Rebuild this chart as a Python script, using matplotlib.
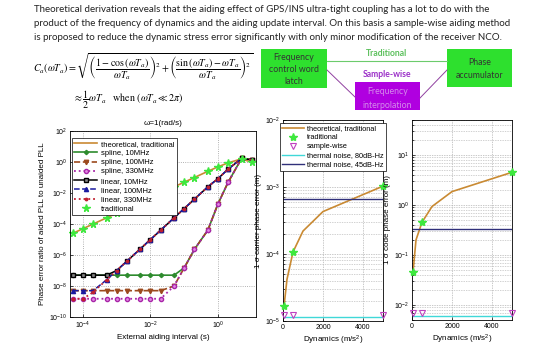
import matplotlib
matplotlib.use("Agg")
import matplotlib.pyplot as plt
from matplotlib.patches import Rectangle

plt.rcParams['font.family'] = ['Liberation Sans', 'DejaVu Sans']
plt.rcParams['mathtext.fontset'] = 'custom'
plt.rcParams['mathtext.rm'] = 'Liberation Sans'
plt.rcParams['mathtext.it'] = 'Liberation Sans:italic'
plt.rcParams['mathtext.bf'] = 'Liberation Sans:bold'
plt.rcParams['axes.linewidth'] = 0.6

# %% data
# left panel: ratio vs external aiding interval
interval = [5e-5, 1e-4, 2e-4, 5e-4, 1e-3, 2e-3, 5e-3, 1e-2, 2e-2, 5e-2,
            0.1, 0.2, 0.5, 1, 2, 5, 10]
theo_ratio = [2.5e-5, 5e-5, 1e-4, 2.5e-4, 5e-4, 1e-3, 2.5e-3, 5e-3, 1e-2,
              2.5e-2, 5e-2, 0.1, 0.25, 0.49, 0.88, 1.6, 0.95]
trad_ratio = theo_ratio
spline_10 = [5e-8, 5e-8, 5e-8, 5e-8, 5e-8, 5e-8, 5e-8, 5e-8, 5e-8, 5e-8,
             1.5e-7, 2.3e-6, 4e-5, 2e-3, 5e-2, 1.7, 1.4]
spline_100 = [5e-9, 5e-9, 5e-9, 5e-9, 5e-9, 5e-9, 5e-9, 5e-9, 5e-9, 1e-8,
              1.5e-7, 2.3e-6, 4e-5, 2e-3, 5e-2, 1.7, 1.4]
spline_330 = [1.5e-9, 1.5e-9, 1.5e-9, 1.5e-9, 1.5e-9, 1.5e-9, 1.5e-9, 1.5e-9,
              1.5e-9, 1e-8, 1.5e-7, 2.3e-6, 4e-5, 2e-3, 5e-2, 1.7, 1.4]
linear_10 = [5e-8, 5e-8, 5e-8, 5e-8, 1e-7, 4e-7, 2.5e-6, 1e-5, 4e-5, 2.5e-4,
             1e-3, 4e-3, 2.5e-2, 0.085, 0.35, 1.7, 1.4]
linear_100 = [5e-9, 5e-9, 5e-9, 2.5e-8, 1e-7, 4e-7, 2.5e-6, 1e-5, 4e-5,
              2.5e-4, 1e-3, 4e-3, 2.5e-2, 0.085, 0.35, 1.7, 1.4]
linear_330 = [1.5e-9, 1.5e-9, 4e-9, 2.5e-8, 1e-7, 4e-7, 2.5e-6, 1e-5, 4e-5,
              2.5e-4, 1e-3, 4e-3, 2.5e-2, 0.085, 0.35, 1.7, 1.4]

# middle / right panels: error vs dynamics
dynamics = [50, 200, 500, 1000, 2000, 5000]
dyn_marks = [50, 500, 5000]
dyn_span = [0, 5000]
carrier_theo = [1.66e-5, 4.2e-5, 1.07e-4, 2.2e-4, 4.3e-4, 1.03e-3]
carrier_trad = [1.66e-5, 1.07e-4, 1.03e-3]
carrier_sample = [1.25e-5, 1.25e-5, 1.25e-5]
carrier_80 = [1.15e-5, 1.15e-5]
carrier_45 = [6.6e-4, 6.6e-4]
code_theo = [0.045, 0.2, 0.45, 0.93, 1.85, 4.5]
code_trad = [0.045, 0.45, 4.5]
code_sample = [7e-3, 7e-3, 7e-3]
code_80 = [5.9e-3, 5.9e-3]
code_45 = [0.33, 0.33]

para = ["Theoretical derivation reveals that the aiding effect of GPS/INS "
        "ultra-tight coupling has a lot to do with the",
        "product of the frequency of dynamics and the aiding update interval. "
        "On this basis a sample-wise aiding method",
        "is proposed to reduce the dynamic stress error significantly with "
        "only minor modification of the receiver NCO."]

c_theo = '#C98A33'
c_star = '#3EE83E'
c_tri = '#C040C0'
W, H = 550., 350.

fig = plt.figure(figsize=(5.5, 3.5), dpi=100)

# %% header text, formula and NCO sketch (pixel coordinates)
ax0 = fig.add_axes([0, 0, 1, 1])
ax0.set_xlim(0, W)
ax0.set_ylim(H, 0)
ax0.axis('off')

for i, line in enumerate(para):
    ax0.text(34, 10 + 13.5 * i, line, family='Lato', fontsize=7.0,
             va='center', ha='left', color='#222222')

formula = (r'$C_a\left(\omega T_a\right)=\sqrt{\left(\dfrac{1-\cos\left(\omega T_a'
           r'\right)}{\omega T_a}\right)^2+\left(\dfrac{\sin\left(\omega T_a'
           r'\right)-\omega T_a}{\omega T_a}\right)^2}$')
ax0.text(33, 67, formula, math_fontfamily='stix', fontsize=7.2, va='center')
ax0.text(73, 100, r'$\approx\dfrac{1}{2}\omega T_a\quad\mathrm{when}\ '
         r'\left(\omega T_a\ll 2\pi\right)$', math_fontfamily='stix',
         fontsize=7.2, va='center')

green = '#2EE02E'
ax0.add_patch(Rectangle((261, 49), 66, 39, color=green, lw=0))
ax0.add_patch(Rectangle((447, 49), 65, 38, color=green, lw=0))
ax0.add_patch(Rectangle((355, 82), 65, 28, color='#B000E0', lw=0))
ax0.text(294, 57, 'Frequency', family='Lato', fontsize=6.3, ha='center',
         va='center', color='#333333')
ax0.text(294, 69.5, 'control word', family='Lato', fontsize=6.3, ha='center',
         va='center', color='#333333')
ax0.text(294, 81.5, 'latch', family='Lato', fontsize=6.3, ha='center',
         va='center', color='#333333')
ax0.text(479.5, 62.5, 'Phase', family='Lato', fontsize=6.3, ha='center',
         va='center', color='#333333')
ax0.text(479.5, 76, 'accumulator', family='Lato', fontsize=6.3,
         ha='center', va='center', color='#333333')
ax0.text(387.5, 92, 'Frequency', family='Lato', fontsize=6.3, ha='center',
         va='center', color='#D58CEB')
ax0.text(387.5, 105, 'interpolation', family='Lato', fontsize=6.3,
         ha='center', va='center', color='#D58CEB')
ax0.plot([327, 447], [61, 61], color='#6CCB6C', lw=0.8)
ax0.text(387, 53, 'Traditional', family='Lato', fontweight='bold',
         fontsize=6.2, ha='center', va='center', color='#5CC05C')
ax0.text(387, 74.5, 'Sample-wise', family='Lato', fontweight='bold',
         fontsize=6.2, ha='center', va='center', color='#9B30C8')
ax0.plot([327, 355], [70, 97], color='#9040A0', lw=0.7)
ax0.plot([420, 447], [98, 70], color='#9040A0', lw=0.7)

# %% left panel
ax1 = fig.add_axes([70 / W, 33 / H, 186 / W, 186 / H])
ax1.plot(interval, theo_ratio, '-', color=c_theo, lw=1.2,
         label='theoretical, traditional')
ax1.plot(interval, spline_10, '-', color='#2E8B2E', marker='D', ms=2.2,
         lw=1.2, label='spline, 10MHz')
ax1.plot(interval, spline_100, '--', color='#9C4A1E', marker='v', ms=3.2,
         lw=1.2, label='spline, 100MHz')
ax1.plot(interval, spline_330, ':', color='#A826A8', marker='o', ms=3,
         mfc='#E28AE2', lw=1.3, label='spline, 330MHz')
ax1.plot(interval, linear_10, '-', color='black', marker='s', ms=3,
         mfc='#888888', lw=1.1, label='linear, 10MHz')
ax1.plot(interval, linear_100, '--', color='#1A1AA0', marker='^', ms=3,
         lw=1.1, label='linear, 100MHz')
ax1.plot(interval, linear_330, ':', color='#C02030', marker='.', ms=3.5,
         lw=1.3, label='linear, 330MHz')
ax1.plot(interval, trad_ratio, '*', color=c_star, ms=5.5, ls='none',
         label='traditional', clip_on=False)
ax1.set_xscale('log')
ax1.set_yscale('log')
ax1.set_xlim(10 ** -4.385, 10 ** 1.126)
ax1.set_ylim(1e-10, 1e2)
ax1.set_xticks([1e-4, 1e-2, 1])
ax1.set_yticks([10.0 ** k for k in range(-10, 3, 2)])
ax1.minorticks_off()
ax1.grid(True, ls=':', color='0.6', lw=0.6)
ax1.tick_params(direction='in', length=2.5, width=0.5, labelsize=5, pad=2)
ax1.set_title('ω=1(rad/s)', fontsize=5.8, pad=4)
ax1.set_xlabel('External aiding interval (s)', fontsize=5.8, labelpad=2)
ax1.set_ylabel('Phase error ratio of aided PLL to unaided PLL', fontsize=5.8,
               labelpad=2)
leg = ax1.legend(loc='upper left', bbox_to_anchor=(0.011, 0.962),
                 fontsize=5.5, handlelength=3.0, labelspacing=0.25,
                 borderaxespad=0, borderpad=0.3, handletextpad=0.5,
                 fancybox=False, framealpha=1, edgecolor='black')
leg.get_frame().set_linewidth(0.5)


def dyn_panel(rect, theo, trad, sample, n80, n45, ylim, yticks, ylabel,
              with_legend):
    ax = fig.add_axes(rect)
    ax.plot(dynamics, theo, '-', color=c_theo, lw=1.2,
            label='theoretical, traditional')
    ax.plot(dyn_marks, trad, '*', color=c_star, ms=6, ls='none',
            label='traditional', clip_on=False, zorder=5)
    ax.plot(dyn_marks, sample, 'v', color=c_tri, mfc='none', ms=4, mew=0.8,
            ls='none', label='sample-wise', clip_on=False, zorder=5)
    ax.plot(dyn_span, n80, '-', color='#40D8D8', lw=1.0,
            label='thermal noise, 80dB-Hz')
    ax.plot(dyn_span, n45, '-', color='#30307A', lw=1.0,
            label='thermal noise, 45dB-Hz')
    ax.set_yscale('log')
    ax.set_xlim(0, 5000)
    ax.set_ylim(*ylim)
    ax.set_xticks([0, 2000, 4000])
    ax.set_yticks(yticks)
    ax.grid(True, which='major', ls=(0, (2, 1.5)), color='0.7', lw=0.5)
    ax.grid(True, which='minor', axis='y', ls=(0, (2, 1.5)), color='0.75',
            lw=0.5)
    ax.tick_params(which='both', direction='in', width=0.5, labelsize=5,
                   pad=2)
    ax.tick_params(which='major', length=2.5)
    ax.tick_params(which='minor', length=1.5)
    ax.set_xlabel('Dynamics (m/s$^2$)', fontsize=5.8, labelpad=2)
    ax.set_ylabel(ylabel, fontsize=5.8, labelpad=2)
    if with_legend:
        lg = ax.legend(loc='upper left', bbox_to_anchor=(-0.03, 0.985),
                       fontsize=5.3, handlelength=2.9, labelspacing=0.25,
                       borderaxespad=0, borderpad=0.3, handletextpad=0.5,
                       fancybox=False, framealpha=1, edgecolor='black')
        lg.get_frame().set_linewidth(0.5)
    return ax


ax2 = dyn_panel([283 / W, 29 / H, 100 / W, 201 / H], carrier_theo,
                carrier_trad, carrier_sample, carrier_80, carrier_45,
                (1e-5, 1e-2), [1e-5, 1e-4, 1e-3, 1e-2],
                '1 σ carrier phase error (m)', True)
ax3 = dyn_panel([412 / W, 30 / H, 100 / W, 200 / H], code_theo, code_trad,
                code_sample, code_80, code_45, (5e-3, 50),
                [1e-2, 1e-1, 1, 10], '1 σ code phase error (m)', False)

fig.savefig('out.png', dpi=100)
